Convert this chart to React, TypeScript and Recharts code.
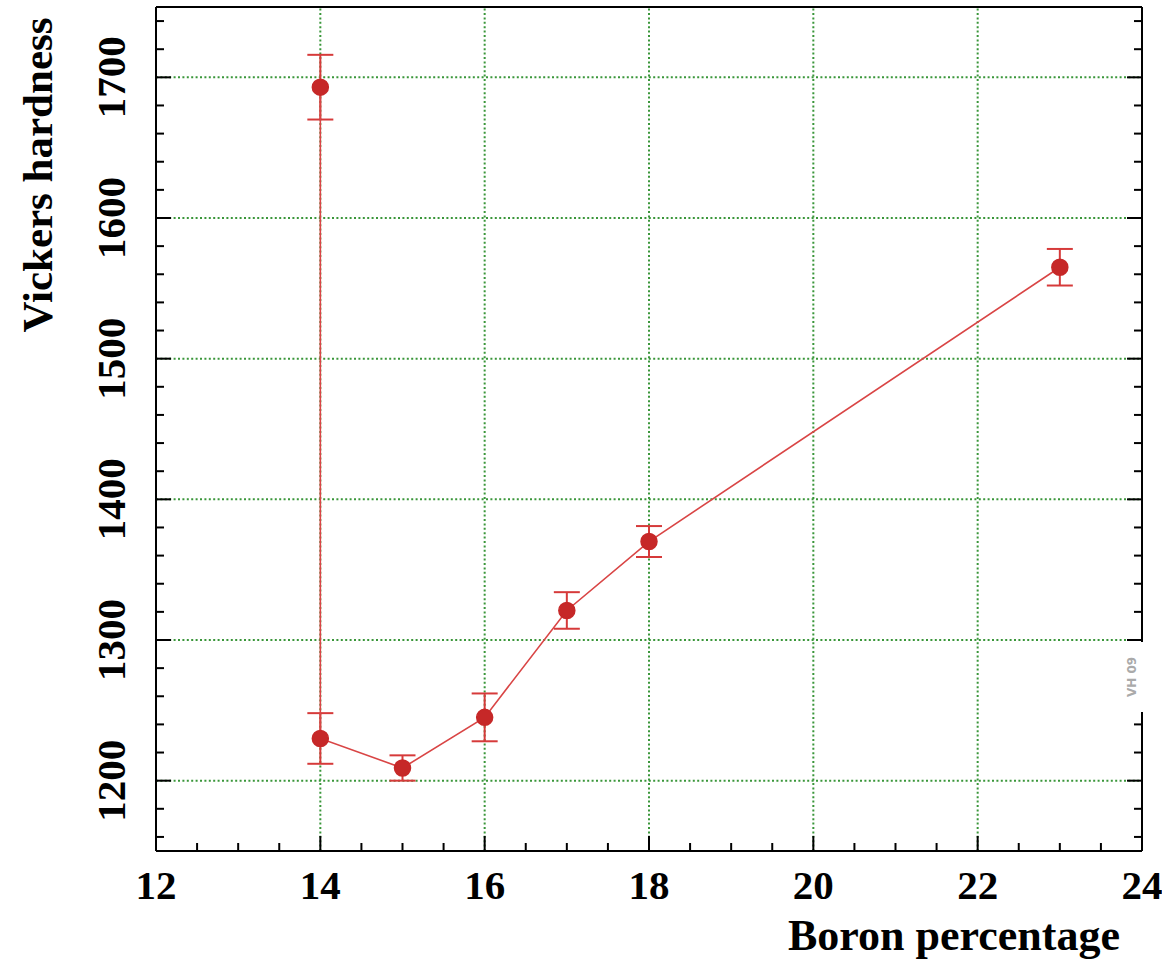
import { LineChart, Line, XAxis, YAxis, ErrorBar, ReferenceLine } from "recharts";

const boron = [14, 14, 15, 16, 17, 18, 23];
const hardness = [1693, 1230, 1209, 1245, 1321, 1370, 1565];
const hardnessErr = [23, 18, 9, 17, 13, 11, 13];

const majorX = [12, 14, 16, 18, 20, 22, 24];
const majorY = [1200, 1300, 1400, 1500, 1600, 1700];
const minorX = Array.from({ length: 25 }, (_, i) => 12 + i * 0.5);
const minorY = Array.from({ length: 30 }, (_, i) => 1160 + i * 20);

const data = boron.map((b, i) => ({ x: b, y: hardness[i], err: hardnessErr[i] }));

const FONT = "'Liberation Serif', 'Times New Roman', serif";
const RED = "#c62828";
const GRID = "#3a963a";

const isMajorX = (v: number) => majorX.includes(v);
const isMajorY = (v: number) => majorY.includes(v);

function BottomTick(props: any) {
  const { x, y, payload } = props;
  const major = isMajorX(payload.value);
  const len = major ? 15 : 8;
  return (
    <g>
      <line x1={x} x2={x} y1={y} y2={y - len} stroke="#000" strokeWidth={2} />
      {major && (
        <text x={x} y={y + 48} textAnchor="middle" fontFamily={FONT} fontWeight="bold" fontSize={41} fill="#000">
          {payload.value}
        </text>
      )}
    </g>
  );
}

function TopTick(props: any) {
  const { x, y, payload } = props;
  const len = isMajorX(payload.value) ? 15 : 8;
  return <line x1={x} x2={x} y1={y} y2={y + len} stroke="#000" strokeWidth={2} />;
}

function LeftTick(props: any) {
  const { x, y, payload } = props;
  const major = isMajorY(payload.value);
  const len = major ? 15 : 8;
  return (
    <g>
      <line x1={x} x2={x + len} y1={y} y2={y} stroke="#000" strokeWidth={2} />
      {major && (
        <text
          transform={`translate(${x - 31},${y}) rotate(-90)`}
          textAnchor="middle"
          fontFamily={FONT}
          fontWeight="bold"
          fontSize={41}
          fill="#000"
        >
          {payload.value}
        </text>
      )}
    </g>
  );
}

function RightTick(props: any) {
  const { x, y, payload } = props;
  const len = isMajorY(payload.value) ? 15 : 8;
  return <line x1={x} x2={x - len} y1={y} y2={y} stroke="#000" strokeWidth={2} />;
}

export default function App() {
  return (
    <div style={{ position: "absolute", left: 0, top: 0, width: 1162, height: 965, background: "#fff" }}>
      <LineChart width={1162} height={965} data={data} margin={{ top: 0, right: 0, bottom: 0, left: 0 }}>
        <XAxis
          xAxisId="b"
          dataKey="x"
          type="number"
          domain={[12, 24]}
          allowDataOverflow
          ticks={minorX}
          interval={0}
          height={114}
          tickSize={0}
          tickMargin={0}
          tick={<BottomTick />}
          axisLine={{ stroke: "#000", strokeWidth: 2 }}
          tickLine={false}
        />
        <XAxis
          xAxisId="t"
          orientation="top"
          type="number"
          domain={[12, 24]}
          allowDataOverflow
          ticks={minorX}
          interval={0}
          height={7}
          tickSize={0}
          tickMargin={0}
          tick={<TopTick />}
          axisLine={{ stroke: "#000", strokeWidth: 2 }}
          tickLine={false}
        />
        <YAxis
          yAxisId="l"
          type="number"
          domain={[1150, 1750]}
          allowDataOverflow
          ticks={minorY}
          interval={0}
          width={156}
          tickSize={0}
          tickMargin={0}
          tick={<LeftTick />}
          axisLine={{ stroke: "#000", strokeWidth: 2 }}
          tickLine={false}
          label={{
            value: "Vickers hardness",
            angle: -90,
            position: "insideLeft",
            content: () => (
              <text
                transform="translate(52,175) rotate(-90)"
                textAnchor="middle"
                fontFamily={FONT}
                fontWeight="bold"
                fontSize={43}
                fill="#000"
              >
                Vickers hardness
              </text>
            ),
          }}
        />
        <YAxis
          yAxisId="r"
          orientation="right"
          type="number"
          domain={[1150, 1750]}
          allowDataOverflow
          ticks={minorY}
          interval={0}
          width={20}
          tickSize={0}
          tickMargin={0}
          tick={<RightTick />}
          axisLine={{ stroke: "#000", strokeWidth: 2 }}
          tickLine={false}
        />
        {majorX
          .filter((v) => v > 12 && v < 24)
          .map((v) => (
            <ReferenceLine key={"gx" + v} x={v} xAxisId="b" yAxisId="l" stroke={GRID} strokeWidth={2} strokeDasharray="2 2.4" />
          ))}
        {majorY.map((v) => (
          <ReferenceLine key={"gy" + v} y={v} xAxisId="b" yAxisId="l" stroke={GRID} strokeWidth={2} strokeDasharray="2 2.4" />
        ))}
        <Line
          xAxisId="b"
          yAxisId="l"
          dataKey="y"
          stroke="#d94545"
          strokeWidth={1.6}
          isAnimationActive={false}
          dot={{ r: 8, fill: RED, stroke: RED, strokeWidth: 1.5 }}
          activeDot={false}
        >
          <ErrorBar dataKey="err" direction="y" width={13} stroke="#d63a3a" strokeWidth={2} isAnimationActive={false} />
        </Line>
        <text x={1120} y={950} textAnchor="end" fontFamily={FONT} fontWeight="bold" fontSize={44} fill="#000">
          Boron percentage
        </text>
      </LineChart>
      <div
        style={{
          position: "absolute",
          left: 1119,
          top: 642,
          width: 26,
          height: 70,
          background: "#fff",
          display: "flex",
          alignItems: "center",
          justifyContent: "center",
        }}
      >
        <span
          style={{
            transform: "rotate(-90deg)",
            whiteSpace: "nowrap",
            fontFamily: "'DejaVu Sans', sans-serif",
            fontSize: 12,
            fontWeight: "bold",
            color: "#aaa",
          }}
        >
          VH 09
        </span>
      </div>
    </div>
  );
}
